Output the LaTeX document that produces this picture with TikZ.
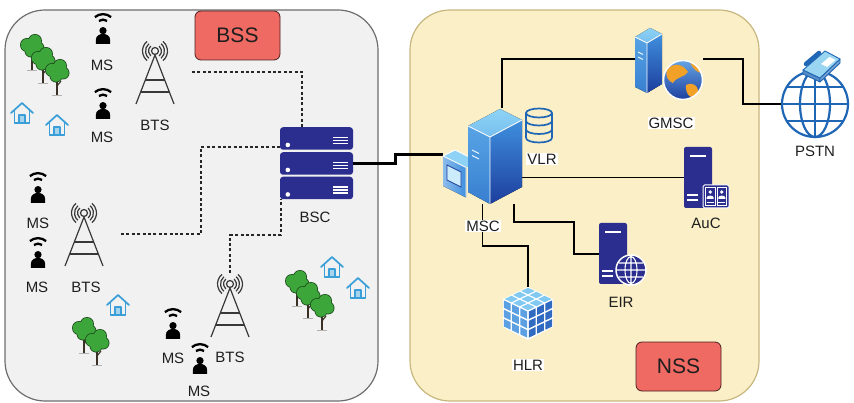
\documentclass[tikz,border=0pt]{standalone}
\usepackage{fontspec}
\setmainfont{Liberation Sans}
\definecolor{bssfill}{HTML}{F1F1F1}
\definecolor{bssedge}{HTML}{6E6E6E}
\definecolor{nssfill}{HTML}{FBEFC7}
\definecolor{nssedge}{HTML}{C7B77E}
\definecolor{tagred}{HTML}{EE6A63}
\definecolor{tagedge}{HTML}{4A2020}
\definecolor{srvblue}{HTML}{2B2E8E}
\definecolor{houseblue}{HTML}{3A9FD8}
\definecolor{treegreen}{HTML}{3DA63A}
\definecolor{treeedge}{HTML}{1E4F1E}
\definecolor{trunkbrown}{HTML}{3A3026}
\definecolor{netblue}{HTML}{1F66B5}
\definecolor{msclight}{HTML}{8ED3F6}
\definecolor{mscmid}{HTML}{3F8FDD}
\definecolor{mscdark}{HTML}{1D3E9E}
\definecolor{orangeland}{HTML}{F2A128}
\definecolor{inktext}{HTML}{1E1E1E}
\definecolor{towerink}{HTML}{383838}
\definecolor{phonelight}{HTML}{9AD6F2}

\tikzset{
  % handset user: radio waves over a person
  mobile/.pic={
    \begin{scope}[scale=1.1]
    \draw[line width=2.3pt] ([shift={(0,-2)}]50:11.5pt) arc[start angle=50,end angle=130,radius=11.5pt];
    \draw[line width=2.3pt] ([shift={(0,-2)}]55:6.5pt) arc[start angle=55,end angle=125,radius=6.5pt];
    \fill (0,1.5) circle[radius=3.3pt];
    \fill (-6.5,13.5) -- (-6.5,10) .. controls (-6.5,6) and (-3,4.5) .. (0,4.5)
          .. controls (3,4.5) and (6.5,6) .. (6.5,10) -- (6.5,13.5) -- cycle;
    \end{scope}
  },
  % lattice mast with radiating antenna
  tower/.pic={
    \begin{scope}[towerink, line width=1.2pt]
      \draw (0,-21) circle[radius=3.5pt];
      \foreach \r in {6.5pt,9.5pt,12.5pt}{
        \draw ([shift={(0,-21)}]-50:\r) arc[start angle=-50,end angle=50,radius=\r];
        \draw ([shift={(0,-21)}]130:\r) arc[start angle=130,end angle=230,radius=\r];
      }
      \draw (-19,32) -- (0,-17) -- (19,32);
      \draw (-9.7,8) -- (9.7,8) (-14.3,20) -- (14.3,20);
    \end{scope}
  },
  tree/.pic={
    \draw[trunkbrown, line width=2.6pt] (0,0) -- (0,23);
    \draw[trunkbrown, line width=1.1pt] (0,11) -- (-4,6) (0,14) -- (4,9);
    \draw[gray!60, line width=0.6pt] (-5,23) -- (5,23);
    \fill[treeedge] (-5,-2) circle[radius=7pt] (3,-6) circle[radius=7pt]
                    (6,1) circle[radius=6.5pt] (-1,4) circle[radius=6.5pt];
    \fill[treegreen] (-5,-2) circle[radius=6.2pt] (3,-6) circle[radius=6.2pt]
                     (6,1) circle[radius=5.7pt] (-1,4) circle[radius=5.7pt] (1,-1) circle[radius=5pt];
  },
  house/.pic={
    \begin{scope}[houseblue, line join=round, line cap=round]
      \draw[line width=1.7pt] (-11,0) -- (0,-10) -- (11,0);
      \draw[line width=1.7pt] (-7.5,-3) -- (-7.5,10) -- (7.5,10) -- (7.5,-3);
      \draw[line width=1.1pt, fill=houseblue!45] (-3,10) rectangle (3,2);
    \end{scope}
  },
  % dark blue tower server, origin at its top left corner
  srvtower/.pic={
    \fill[srvblue, rounded corners=2pt] (0,0) rectangle (28,61);
    \draw[white, line width=1.5pt] (6,9) -- (22,9);
    \draw[white, line width=1.3pt] (3,48) -- (14,48) (3,53) -- (14,53);
  },
  wireglobe/.pic={
    \filldraw[fill=srvblue, draw=white, line width=1.5pt] (0,0) circle[radius=15pt];
    \draw[white, line width=1.1pt] (0,0) ellipse[x radius=6pt, y radius=13.5pt]
      (0,-13.5) -- (0,13.5) (-14,0) -- (14,0) (-12,-7) -- (12,-7) (-12,7) -- (12,7);
  },
}

\begin{document}
\begin{tikzpicture}[x=1pt,y=-1pt,
  lbl/.style={font=\fontsize{15}{17}\selectfont, text=inktext, inner sep=1pt},
  wlbl/.style={lbl, fill=white},
  tag/.style={draw=tagedge, fill=tagred, line width=0.8pt, rounded corners=6pt,
    minimum width=85pt, minimum height=49pt, inner sep=0pt,
    font=\fontsize{21}{24}\selectfont, text=inktext},
  iconbox/.style={inner sep=0pt, outer sep=0pt},
  rackunit/.style={fill=srvblue, rounded corners=3pt, minimum width=73pt,
    minimum height=22.5pt, inner sep=0pt},
  wire/.style={line width=1.1pt, black},
  backhaul/.style={line width=2.8pt, black},
  radiolink/.style={line width=1.4pt, black!85, dash pattern=on 3pt off 2.4pt},
  srvedge/.style={white, line width=0.9pt, line join=round},
]
\useasboundingbox (0,0) rectangle (854,403);
\fill[white] (0,0) rectangle (854,403);

% subsystem panels
\draw[bssedge, fill=bssfill, line width=1.2pt, rounded corners=40pt] (5,10) rectangle (378,401);
\draw[nssedge, fill=nssfill, line width=1.2pt, rounded corners=40pt] (410,10) rectangle (759,401);
\node[tag] (bsstag) at (237.5,35.5) {BSS};
\node[tag] (nsstag) at (678.5,366.5) {NSS};

% element placeholders
\node[iconbox, minimum width=40pt, minimum height=64pt] (bts1) at (155,72) {};
\node[iconbox, minimum width=40pt, minimum height=64pt] (bts2) at (84,234) {};
\node[iconbox, minimum width=40pt, minimum height=64pt] (bts3) at (230,305) {};
\node[iconbox, minimum width=16pt, minimum height=28pt] (ms1) at (103,29) {};
\node[iconbox, minimum width=16pt, minimum height=28pt] (ms2) at (103,104) {};
\node[iconbox, minimum width=16pt, minimum height=28pt] (ms3) at (38,188) {};
\node[iconbox, minimum width=16pt, minimum height=28pt] (ms4) at (38,253) {};
\node[iconbox, minimum width=16pt, minimum height=28pt] (ms5) at (173,324) {};
\node[iconbox, minimum width=16pt, minimum height=28pt] (ms6) at (200,359) {};
\node[rackunit] (bsc1) at (316.5,138.5) {};
\node[rackunit] (bsc2) at (316.5,163.5) {};
\node[rackunit] (bsc3) at (316.5,188) {};
\node[iconbox, minimum width=79pt, minimum height=96pt] (msc) at (482.5,156) {};
\node[iconbox, minimum width=68pt, minimum height=72pt] (gmsc) at (669,64) {};
\node[iconbox, circle, minimum size=66pt] (pstn) at (815,104) {};
\node[iconbox, minimum width=45pt, minimum height=61pt] (auc) at (706.5,177.5) {};
\node[iconbox, minimum width=47pt, minimum height=62pt] (eir) at (622.5,254) {};
\node[iconbox, minimum width=50pt, minimum height=53pt] (hlr) at (528,313.5) {};
\node[iconbox, minimum width=28pt, minimum height=35pt] (vlr) at (539,125.5) {};

% radio access links to the BSC
\draw[radiolink] ([xshift=17pt]bts1.east) -| ([xshift=-14.5pt]bsc1.north);
\draw[radiolink] ([xshift=17pt]bts2.east) -- ++(80,0) |- ([yshift=-8.5pt]bsc1.west);
\draw[radiolink] (bts3.north) -- ++(0,-38) -| ([xshift=-35.5pt]bsc3.south);

% BSC to MSC trunk and core links
\draw[backhaul] (bsc2.east) -- ++(42,0) |- ([yshift=1.5pt]msc.west);
\draw[wire] ([xshift=19.5pt]msc.north) |- ([yshift=5pt]gmsc.west);
\draw[wire] ([yshift=5pt]gmsc.east) -- ++(40,0) |- (pstn.west);
\draw[wire] (msc.east |- auc.west) -- (auc.west);
\draw[wire] ([xshift=31.5pt]msc.south) |- ([shift={(-25,-32)}]eir.west) |- (eir.west);
\draw[wire] (msc.south) |- ([yshift=41pt]hlr.north) -- (hlr.north);

% scenery
\foreach \p in {(32,47),(43,60),(57,72),(84,330),(97,342),(297,283),(308,295),(322,307)}
  \pic at \p {tree};
\foreach \p in {(22,113),(57,125),(118,305),(332,267),(358,288)}
  \pic at \p {house};

% radio equipment
\foreach \t in {bts1,bts2,bts3} \pic at (\t) {tower};
\foreach \m in {ms1,ms2,ms3,ms4,ms5,ms6} \pic at (\m) {mobile};

% BSC rack
\foreach \u in {bsc1,bsc2,bsc3}{
  \fill[white] ([shift={(8,-5)}]\u.south west) circle[radius=2.3pt];
  \foreach \dy in {-1,2,5}
    \draw[white, line width=1.2pt] ([shift={(-20,\dy)}]\u.east) -- ([shift={(-5,\dy)}]\u.east);
}

% MSC: console box and tall server
\fill[msclight] (443,156) -- (455,150) -- (478,161.5) -- (466,167.5) -- cycle;
\fill[left color=mscmid!60!white, right color=mscmid] (443,156) -- (466,167.5) -- (466,197.5) -- (443,186) -- cycle;
\draw[srvedge] (443,156) -- (455,150) -- (478,161.5) (443,156) -- (466,167.5) -- (466,197.5);
\filldraw[fill=msclight!45!white, draw=mscdark, line width=0.8pt] (447,165) -- (461,172) -- (461,187) -- (447,180) -- cycle;
\fill[top color=msclight, bottom color=msclight!70!mscmid] (468,126) -- (500,109) -- (522,120) -- (490,137) -- cycle;
\fill[top color=mscmid!70!msclight, bottom color=mscmid!80!mscdark] (468,126) -- (490,137) -- (490,204) -- (468,192) -- cycle;
\fill[top color=mscmid, bottom color=mscdark] (490,137) -- (522,120) -- (522,187) -- (490,204) -- cycle;
\draw[srvedge] (468,126) -- (490,137) -- (522,120) (490,137) -- (490,204);
\draw[white!80!msclight, line width=1pt] (472,150) -- (479,153.5) (472,155.5) -- (479,159);

% VLR database
\begin{scope}[netblue, line width=1.7pt]
  \draw (vlr.center |- 0,113) ellipse[x radius=13pt, y radius=4.5pt];
  \draw (526,113) -- (526,138) (552,113) -- (552,138);
  \foreach \yy in {121,129.5,138}
    \draw (526,\yy) arc[start angle=180, end angle=360, x radius=13pt, y radius=4.5pt];
\end{scope}

% GMSC: server with globe
\fill[top color=msclight, bottom color=msclight!70!mscmid] (635,37) -- (650,28) -- (662,34) -- (647,43) -- cycle;
\fill[top color=mscmid!70!msclight, bottom color=mscmid!80!mscdark] (635,37) -- (647,43) -- (647,93) -- (635,87) -- cycle;
\fill[top color=mscmid, bottom color=mscdark] (647,43) -- (662,34) -- (662,84) -- (647,93) -- cycle;
\draw[srvedge] (635,37) -- (647,43) -- (662,34) (647,43) -- (647,93);
\draw[white!80!msclight, line width=1pt] (638,52) -- (643,54.5) (638,57) -- (643,59.5);
\begin{scope}
  \clip (683,80) circle[radius=19.5pt];
  \fill[top color=mscmid!80!white, bottom color=mscdark] (663,60) rectangle (703,100);
  \fill[orangeland] (667,70) .. controls (674,61) and (684,65) .. (688,72)
        .. controls (684,78) and (677,76) .. (673,83) .. controls (668,81) and (665,76) .. (667,70) -- cycle;
  \fill[orangeland] (686,85) .. controls (694,81) and (701,88) .. (697,97)
        .. controls (692,100) and (685,95) .. (686,85) -- cycle;
  \fill[orangeland] (690,62) .. controls (697,61) and (702,66) .. (702,73)
        .. controls (697,73) and (692,68) .. (690,62) -- cycle;
\end{scope}
\draw[white, line width=1.5pt] (683,80) circle[radius=19.5pt];

% PSTN: wire globe with desk phone
\begin{scope}[netblue, line width=2.2pt]
  \draw (pstn.center) circle[radius=33pt];
  \draw (pstn.center) ellipse[x radius=15pt, y radius=33pt];
  \draw (815,71) -- (815,137) (782,104) -- (848,104) (786.5,87) -- (843.5,87) (786.5,121) -- (843.5,121);
\end{scope}
\filldraw[fill=netblue!75!white, draw=netblue, line width=0.9pt, line join=round] (803,70) -- (820,78) -- (820,82) -- (803,74) -- cycle;
\filldraw[fill=netblue!60!white, draw=netblue, line width=0.9pt, line join=round] (820,78) -- (840,59) -- (840,63) -- (820,82) -- cycle;
\filldraw[fill=phonelight, draw=netblue, line width=0.9pt, line join=round] (803,70) -- (825,51) -- (840,59) -- (820,78) -- cycle;
\fill[white] (821,64) -- (829.5,57) -- (835.5,60) -- (827,67) -- cycle;
\draw[netblue, line width=4.5pt, line cap=round] (806,64) -- (819,53);

% AuC and EIR servers
\pic at (684,147) {srvtower};
\filldraw[fill=srvblue, draw=white, line width=1pt, rounded corners=1.5pt] (703,185) rectangle (729,208);
\draw[white, line width=0.8pt] (705.5,187.5) rectangle (715,205.5) (717,187.5) rectangle (726.5,205.5);
\foreach \cx in {710.2,721.8}{
  \fill[white] (\cx,192) circle[radius=1.9pt];
  \fill[white] (\cx-3.5,199) -- (\cx-3.5,197.5) .. controls (\cx-3.5,195) and (\cx+3.5,195) .. (\cx+3.5,197.5) -- (\cx+3.5,199) -- cycle;
  \draw[white, line width=0.7pt] (\cx-3.5,202.5) -- (\cx+3.5,202.5);
}
\pic at (599,223) {srvtower};
\pic at (631,270) {wireglobe};

% HLR cube
\fill[white] (528,287) -- (553,299) -- (553,327) -- (528,340) -- (503,327) -- (503,299) -- cycle;
\foreach \i in {0,1,2}{
  \foreach \j in {0,1,2}{
    \fill[msclight!85!mscmid] ({528+8.33*(\j-\i)},{287+4*(\i+\j+0.2)}) -- ++(-6.67,3.2) -- ++(6.67,3.2) -- ++(6.67,-3.2) -- cycle;
    \fill[mscmid!85!white] ({503+8.33*(\i+0.1)},{299+4*(\i+0.1)+9.33*(\j+0.1)}) -- ++(6.67,3.2) -- ++(0,7.47) -- ++(-6.67,-3.2) -- cycle;
    \fill[mscmid!55!mscdark] ({528+8.33*(\i+0.1)},{311-4*(\i+0.1)+9.33*(\j+0.1)}) -- ++(6.67,-3.2) -- ++(0,7.47) -- ++(-6.67,3.2) -- cycle;
  }
}

% labels
\node[lbl] (ms1-l) at (102,65) {MS};
\node[lbl] (ms2-l) at (102,137) {MS};
\node[lbl] (bts1-l) at (155,125) {BTS};
\node[lbl] (ms3-l) at (38,223) {MS};
\node[lbl] (ms4-l) at (37,287) {MS};
\node[lbl] (bts2-l) at (86,287) {BTS};
\node[lbl] (ms5-l) at (173,358) {MS};
\node[lbl] (bts3-l) at (230,357) {BTS};
\node[lbl] (ms6-l) at (199,391) {MS};
\node[lbl] (bsc-l) at (315,217) {BSC};
\node[wlbl] (vlr-l) at (542,159) {VLR};
\node[wlbl] (gmsc-l) at (671,123) {GMSC};
\node[lbl] (pstn-l) at (815,151) {PSTN};
\node[wlbl] (msc-l) at (483,226) {MSC};
\node[lbl] (auc-l) at (706,223) {AuC};
\node[lbl] (eir-l) at (621,302) {EIR};
\node[wlbl] (hlr-l) at (528,365) {HLR};
\end{tikzpicture}
\end{document}
